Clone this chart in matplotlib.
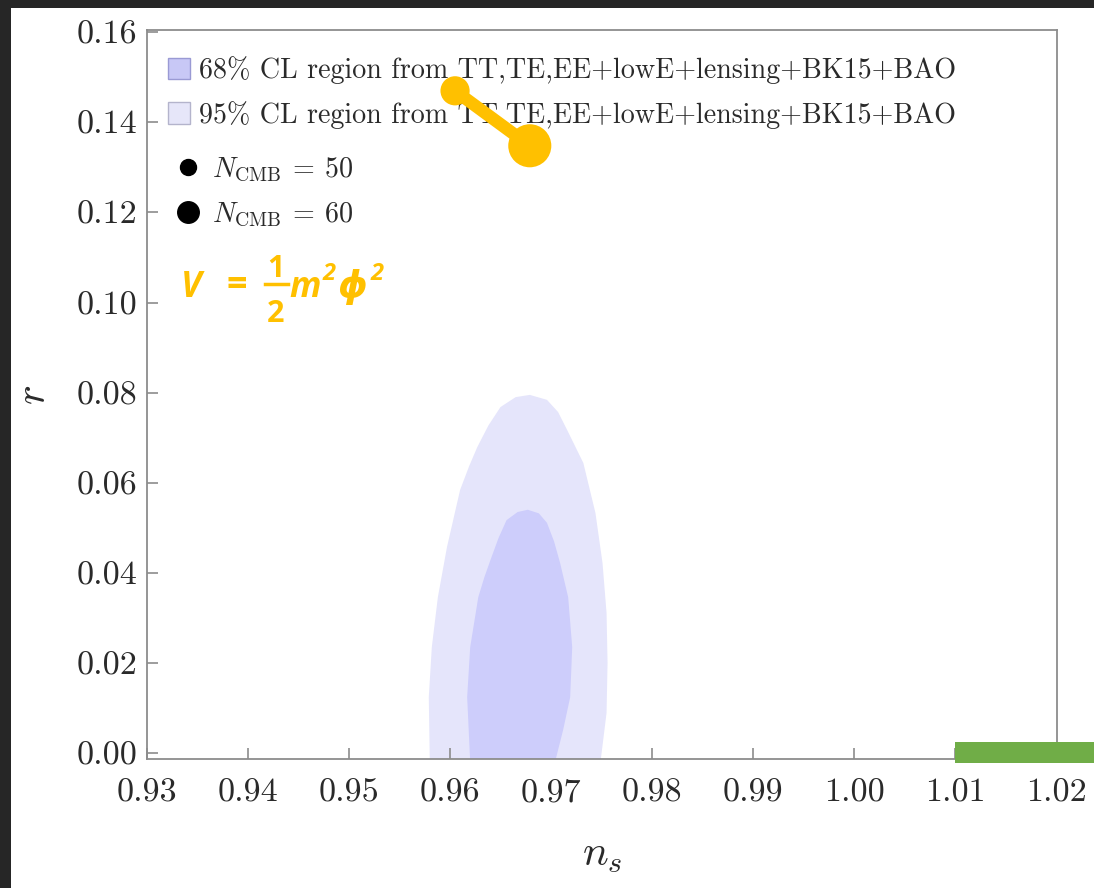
import matplotlib.pyplot as plt
from matplotlib.patches import Patch, Rectangle
from matplotlib.lines import Line2D

plt.rcParams['font.family'] = ['cmr10', 'DejaVu Serif']
plt.rcParams['mathtext.fontset'] = 'cm'
plt.rcParams['axes.unicode_minus'] = False

# --- data (ns, r) ---
outer_ns = [0.9580, 0.9579, 0.9582, 0.9588, 0.9597, 0.9610, 0.9619, 0.9627, 0.9638, 0.9650,
            0.9665, 0.9679, 0.9696, 0.9707, 0.9716, 0.9732, 0.9744, 0.9751, 0.9755, 0.9756,
            0.9755, 0.9749]
outer_r = [-0.002, 0.0124, 0.0235, 0.0346, 0.0457, 0.0584, 0.0637, 0.0679, 0.0727, 0.0768,
           0.0790, 0.0795, 0.0784, 0.0757, 0.0717, 0.0644, 0.0533, 0.0422, 0.0311, 0.0200,
           0.0089, -0.002]
inner_ns = [0.9620, 0.9617, 0.9620, 0.9628, 0.9634, 0.9640, 0.9648, 0.9656, 0.9667, 0.9677,
            0.9688, 0.9696, 0.9703, 0.9709, 0.9717, 0.9721, 0.9719, 0.9712, 0.9704]
inner_r = [-0.002, 0.0124, 0.0235, 0.0346, 0.0390, 0.0428, 0.0477, 0.0517, 0.0535, 0.0540,
           0.0532, 0.0511, 0.0470, 0.0422, 0.0346, 0.0235, 0.0124, 0.0051, -0.002]

# m^2 phi^2 predictions for N_CMB = 50, 60
model_ns = [0.9605, 0.9679]
model_r = [0.1470, 0.1348]
model_size = [21, 31]

xticks = [0.93, 0.94, 0.95, 0.96, 0.97, 0.98, 0.99, 1.00, 1.01, 1.02]
yticks = [0.00, 0.02, 0.04, 0.06, 0.08, 0.10, 0.12, 0.14, 0.16]

legend_text = 'CL region from TT,TE,EE+lowE+lensing+BK15+BAO'
c68 = '#cdcdfb'
c95 = '#e5e5fb'
orange = '#ffc000'
spine_c = '#8c8c8c'
txt_c = '#2a2a2a'

W, H = 1094, 888
fig = plt.figure(figsize=(W / 100, H / 100), dpi=100, facecolor='#262626')
# white page on dark background
fig.patches.append(Rectangle((11 / W, 0), 1 - 11 / W, 1 - 8 / H, transform=fig.transFigure,
                             facecolor='white', edgecolor='none', zorder=-10))

ax = fig.add_axes([147 / W, 1 - 759 / H, (1057 - 147) / W, (759 - 30) / H])
ax.set_facecolor('white')

ax.fill(outer_ns, outer_r, color=c95, lw=0, zorder=1)
ax.fill(inner_ns, inner_r, color=c68, lw=0, zorder=2)

ax.set_xlim(0.93, 1.0201)
ax.set_ylim(-0.00133, 0.1605)
ax.set_xticks(xticks)
ax.set_xticklabels(['%.2f' % v for v in xticks])
ax.set_yticks(yticks)
ax.set_yticklabels(['%.2f' % v for v in yticks])
ax.tick_params(direction='in', length=8, width=1.2, color=spine_c, labelsize=24.5,
               labelcolor=txt_c, top=False, right=False)
ax.tick_params(axis='x', pad=14)
ax.tick_params(axis='y', pad=7)
for s in ax.spines.values():
    s.set_color(spine_c)
    s.set_linewidth(1.3)

ax.set_xlabel('$n_s$', fontsize=31, color=txt_c, labelpad=22)
ax.set_ylabel('$r$', fontsize=30, color=txt_c, labelpad=17)

# legends
h1 = [Patch(facecolor='#c8c8f6', edgecolor='#9a9ad4', lw=1.0),
      Patch(facecolor='#e6e6f9', edgecolor='#b4b4cc', lw=1.0)]
leg1 = ax.legend(h1, ['68% ' + legend_text, '95% ' + legend_text], loc='upper left',
                 bbox_to_anchor=(0.0, 0.993), frameon=False, fontsize=20.2,
                 handlelength=0.8, handleheight=0.8, handletextpad=0.3,
                 labelspacing=0.6, borderaxespad=0.35, labelcolor=txt_c)
ax.add_artist(leg1)
h2 = [Line2D([], [], ls='none', marker='o', ms=11.5, color='black'),
      Line2D([], [], ls='none', marker='o', ms=15.5, color='black')]
ax.legend(h2, [r'$N_{\mathrm{CMB}}\:=\:50$', r'$N_{\mathrm{CMB}}\:=\:60$'], loc='upper left',
          bbox_to_anchor=(0.0, 0.856), frameon=False, fontsize=20.2,
          handlelength=1.45, handletextpad=0.1, labelspacing=0.6, borderaxespad=0.35,
          labelcolor=txt_c)

# orange overlay: model prediction
ax.plot(model_ns, model_r, color=orange, lw=9, solid_capstyle='round', zorder=5,
        clip_on=False)
ax.scatter(model_ns, model_r, s=[v ** 2 for v in model_size], color=orange, zorder=6,
           clip_on=False, lw=0)

# formula  V = 1/2 m^2 phi^2
fam = ['Open Sans', 'DejaVu Sans']
kw = dict(color=orange, fontweight='bold', family=fam, transform=fig.transFigure,
          va='baseline')
fig.text(181 / W, 1 - 297 / H, 'V', style='italic', fontsize=25, **kw)
fig.text(226 / W, 1 - 286 / H, '=', fontsize=26, va='center',
         **{k: v for k, v in kw.items() if k != 'va'})
fig.text(276 / W, 1 - 277 / H, '1', fontsize=22, ha='center', **kw)
fig.text(276 / W, 1 - 322 / H, '2', fontsize=22, ha='center', **kw)
fig.lines.append(Line2D([265 / W, 288 / W], [1 - 284 / H, 1 - 284 / H], color=orange,
                        lw=2.5, transform=fig.transFigure))
fig.text(289 / W, 1 - 297 / H, 'm', style='italic', fontsize=25, **kw)
fig.text(323 / W, 1 - 280 / H, '2', style='italic', fontsize=17, **kw)
fig.text(338 / W, 1 - 297 / H, 'ϕ', style='italic', fontsize=27, **kw)
fig.text(371 / W, 1 - 280 / H, '2', style='italic', fontsize=17, **kw)

# green bar at bottom right
fig.patches.append(Rectangle((955 / W, 1 - 763 / H), (W - 955) / W, 21 / H,
                             transform=fig.transFigure, facecolor='#70ad47',
                             edgecolor='none', zorder=10))

fig.savefig('out.png', dpi=100, facecolor=fig.get_facecolor())
